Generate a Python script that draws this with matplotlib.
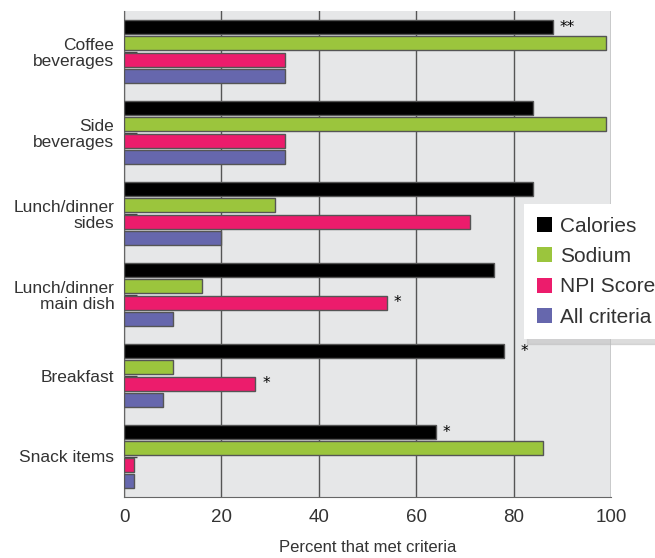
import numpy as np
from matplotlib import pyplot as plt
from matplotlib import rc

rc('font', family=['Liberation Sans', 'DejaVu Sans'])

categories = ['Coffee\nbeverages', 'Side\nbeverages', 'Lunch/dinner\nsides',
              'Lunch/dinner\nmain dish', 'Breakfast', 'Snack items']
series = ['Calories', 'Sodium', 'NPI Score', 'All criteria']
calories = [88, 84, 84, 76, 78, 64]
sodium = [99, 99, 31, 16, 10, 86]
npi_score = [33, 33, 71, 54, 27, 2]
all_criteria = [33, 33, 20, 10, 8, 2]
# (category index, series index, marker)
stars = [(0, 0, '**'), (3, 2, '*'), (4, 0, '*'), (4, 2, '*'), (5, 0, '*')]

colors = ['#000000', '#9bc53d', '#ec1c6c', '#6667ad']
values = [calories, sodium, npi_score, all_criteria]

fig = plt.figure(figsize=(6.55, 5.58), dpi=100)
ax = fig.add_axes([124/655, 61/558, 487/655, 486/558])
ax.set_facecolor('#e6e7e8')

y = np.arange(len(categories))
offsets = [-0.3, -0.1, 0.1, 0.3]
for vals, off, col, name in zip(values, offsets, colors, series):
    ax.barh(y + off, vals, height=0.175, color=col, edgecolor='#555555',
            linewidth=1, label=name, zorder=3)

for ci, si, s in stars:
    pad = 12 if (ci, si) == (4, 0) else 5
    ax.annotate(s, (values[si][ci], y[ci] + offsets[si]), xytext=(pad, 0),
                textcoords='offset points', ha='left', va='center',
                fontsize=11, family='DejaVu Sans', zorder=4)

ax.set_xlim(0, 100)
ax.set_ylim(5.5, -0.5)
ax.set_xticks([0, 20, 40, 60, 80, 100])
ax.set_yticks(y)
ax.set_yticklabels(categories, fontsize=12.5, color='#333333', linespacing=1.05)
ax.tick_params(axis='x', labelsize=13.5, colors='#333333', length=0, pad=9)
ax.tick_params(axis='y', direction='in', length=9, width=1, color='#444444', pad=7)
ax.grid(axis='x', color='#555555', linewidth=1, zorder=1)
ax.set_axisbelow(True)
for side in ['top', 'right']:
    ax.spines[side].set_visible(False)
for side in ['left', 'bottom']:
    ax.spines[side].set_color('#666666')
ax.set_xlabel('Percent that met criteria', fontsize=12, color='#333333', labelpad=10)

leg = fig.legend(loc='upper left', bbox_to_anchor=(524/655, 1 - 204/558),
                 borderaxespad=0, frameon=True, fancybox=False,
                 shadow={'color': '#bbbbbb', 'alpha': 0.5, 'ox': 2, 'oy': -3},
                 handlelength=0.75, handleheight=0.75, handletextpad=0.4,
                 labelspacing=0.55, borderpad=0.6,
                 prop={'family': 'Liberation Sans', 'size': 15})
leg.get_frame().set_edgecolor('none')
for h in leg.legend_handles:
    h.set_edgecolor('none')
for t in leg.get_texts():
    t.set_color('#333333')

fig.savefig('out.png', dpi=100)
